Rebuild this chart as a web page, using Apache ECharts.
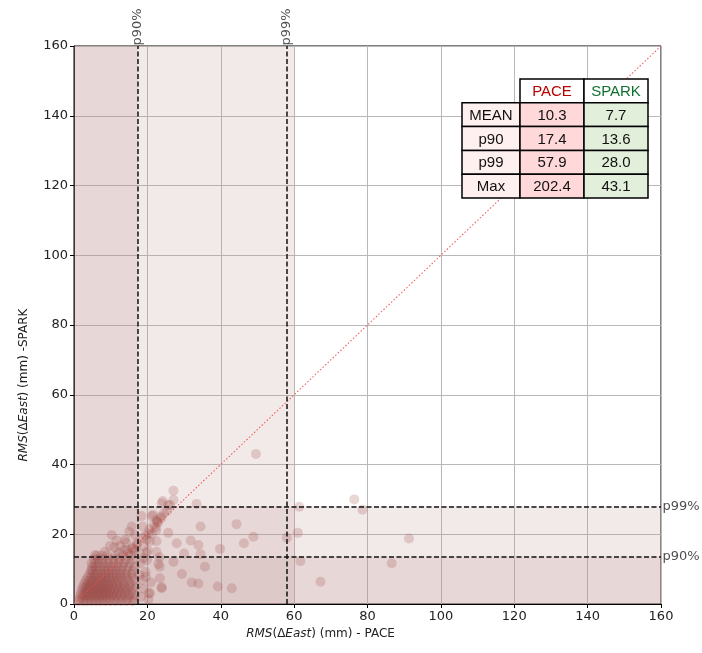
<!DOCTYPE html>
<html>
<head>
<meta charset="utf-8">
<script src="https://cdn.jsdelivr.net/npm/echarts@6/dist/echarts.min.js"></script>
<style>
  html, body { margin: 0; padding: 0; background: #fff; }
  #chart { width: 702px; height: 653px; }
</style>
</head>
<body>
<div id="chart"></div>
<script>
// summary stats (mm)
var statNames = ['MEAN', 'p90', 'p99', 'Max'];
var paceStats = [10.3, 17.4, 57.9, 202.4];
var sparkStats = [7.7, 13.6, 28.0, 43.1];
var shadeLimitX = 60;
var axisTicks = [0, 160, 20];

// RMS(dEast) per station: [PACE, SPARK]
var samples = [
  // dense core
  [1.2,0.8],[2.5,0.8],[3.6,0.8],[4.8,0.8],[6.1,0.8],[7.3,0.8],[8.6,0.8],[9.9,0.8],[11.4,0.8],[12.8,0.8],[14.3,0.8],[15.9,0.8],
  [1.5,1.6],[2.3,1.6],[3.2,1.6],[4.1,1.6],[5.0,1.6],[5.9,1.6],[6.8,1.6],[7.7,1.6],[8.8,1.6],[9.7,1.6],[10.9,1.6],[12.1,1.6],[13.4,1.6],[14.8,1.6],[16.2,1.6],
  [1.8,2.5],[2.7,2.5],[3.5,2.5],[4.4,2.5],[5.2,2.5],[6.1,2.5],[7.0,2.5],[7.9,2.5],[8.7,2.5],[9.6,2.5],[10.6,2.5],[11.5,2.5],[12.7,2.5],[13.9,2.5],[15.1,2.5],[16.6,2.5],
  [2.0,3.3],[2.9,3.3],[3.7,3.3],[4.6,3.3],[5.4,3.3],[6.3,3.3],[7.2,3.3],[8.0,3.3],[8.9,3.3],[9.8,3.3],[10.8,3.3],[11.9,3.3],[13.0,3.3],[14.2,3.3],[15.6,3.3],
  [2.2,4.2],[3.1,4.2],[3.9,4.2],[4.8,4.2],[5.6,4.2],[6.5,4.2],[7.3,4.2],[8.2,4.2],[9.1,4.2],[10.0,4.2],[11.0,4.2],[12.1,4.2],[13.3,4.2],[14.6,4.2],[16.0,4.2],
  [2.5,5.0],[3.4,5.0],[4.2,5.0],[5.1,5.0],[5.9,5.0],[6.8,5.0],[7.6,5.0],[8.5,5.0],[9.4,5.0],[10.4,5.0],[11.5,5.0],[12.6,5.0],[13.8,5.0],[15.2,5.0],[16.8,5.0],
  [2.8,5.9],[3.8,5.9],[4.7,5.9],[5.6,5.9],[6.5,5.9],[7.4,5.9],[8.3,5.9],[9.2,5.9],[10.2,5.9],[11.3,5.9],[12.5,5.9],[13.8,5.9],[15.3,5.9],
  [3.2,6.8],[4.2,6.8],[5.1,6.8],[6.0,6.8],[7.0,6.8],[7.9,6.8],[8.8,6.8],[9.8,6.8],[10.9,6.8],[12.0,6.8],[13.3,6.8],[14.8,6.8],[16.4,6.8],
  [3.7,7.7],[4.7,7.7],[5.6,7.7],[6.6,7.7],[7.5,7.7],[8.5,7.7],[9.5,7.7],[10.5,7.7],[11.7,7.7],[12.9,7.7],[14.3,7.7],[15.9,7.7],
  [4.3,8.6],[5.4,8.6],[6.4,8.6],[7.4,8.6],[8.4,8.6],[9.4,8.6],[10.5,8.6],[11.6,8.6],[12.8,8.6],[14.1,8.6],[15.6,8.6],
  [4.6,9.6],[5.0,9.6],[6.1,9.6],[7.2,9.6],[8.3,9.6],[9.3,9.6],[10.4,9.6],[11.6,9.6],[12.9,9.6],[14.3,9.6],[16.0,9.6],
  [4.9,10.6],[5.8,10.6],[7.0,10.6],[8.2,10.6],[9.4,10.6],[10.6,10.6],[11.9,10.6],[13.2,10.6],[14.8,10.6],[16.5,10.6],
  [4.8,11.7],[5.7,11.7],[6.7,11.7],[8.0,11.7],[9.3,11.7],[10.7,11.7],[12.1,11.7],[13.6,11.7],[15.2,11.7],
  [5.5,12.8],[6.6,12.8],[7.8,12.8],[9.3,12.8],[10.8,12.8],[12.4,12.8],[14.1,12.8],[15.9,12.8],
  [6.2,13.9],[7.5,13.9],[9.0,13.9],[11.2,13.9],[13.3,13.9],[15.5,13.9],
  // just right of the p90 line
  [18.2,2.1],[19.0,4.4],[18.6,6.9],[19.5,9.2],[18.1,11.6],[20.3,1.3],[17.8,8.3],[21.0,6.2],[19.9,12.6],[18.9,13.1],
  [19.6,7.8],[20.4,3.1],[23.4,7.4],[23.9,4.8],[23.0,11.5],[23.3,13.4],[19.8,14.7],
  // along the diagonal above p90
  [14.8,14.6],[15.9,16.1],[17.2,17.5],[16.5,15.2],[13.6,15.4],[18.6,18.9],[19.4,19.6],[20.6,21.4],[21.8,22.7],
  [22.9,23.4],[23.8,24.6],[22.4,21.1],[21.2,20.1],[19.0,16.6],[20.1,15.3],[17.9,14.5],[12.2,14.8],[11.0,16.2],[14.2,17.6],
  [22.3,22.0],[22.7,23.6],[21.2,25.2],[23.9,28.9],[26.2,28.4],[25.4,26.8],[23.6,25.0],[24.5,26.0],
  [18.4,25.2],[18.7,22.2],[20.3,20.3],[20.7,17.9],[22.5,24.1],[21.6,25.5],[22.5,18.0],[22.5,15.0],[19.8,18.4],
  [15.7,22.2],[15.1,20.7],[10.3,19.8],[11.6,18.2],[13.9,18.4],[16.6,19.8],[12.5,16.6],[17.1,16.9],[9.8,16.6],
  [5.7,14.0],[8.4,15.0],[14.5,15.5],[16.0,15.8],
  // scattered
  [27.1,32.5],[27.1,29.8],[24.2,29.5],[25.7,28.4],[33.4,28.7],[34.5,22.2],[44.3,22.9],[48.9,19.3],[46.3,17.4],
  [39.8,15.8],[31.8,18.2],[33.9,16.9],[28.0,17.4],[25.7,20.4],[30.0,14.5],[34.5,14.3],[35.7,10.7],[29.4,8.6],
  [32.1,6.2],[33.9,5.9],[39.2,5.0],[43.0,4.5],[27.1,12.1],[23.4,10.7],[23.9,4.5],[20.7,3.1],
  [49.6,43.0],[76.4,30.0],[78.6,27.0],[61.4,27.9],[61.0,20.4],[58.0,19.0],[91.3,18.8],[61.7,12.3],[86.6,11.7],[67.2,6.4]
];

var diagonal = [[0, 0], [160, 160]];

var shadeColor = 'rgba(188,143,143,0.2)';
var textColor = '#222';

var chart = echarts.init(document.getElementById('chart'));

// stats table drawn with graphic rects
function buildTable() {
  var left = 462, top = 79, rowH = 23.8;
  var colW = [58, 64, 64];
  var els = [];
  var font = '15px "Liberation Sans", Arial, sans-serif';
  function cell(x, y, w, fill, txt, color) {
    els.push({
      type: 'rect', shape: { x: x, y: y, width: w, height: rowH },
      style: { fill: fill, stroke: '#000', lineWidth: 1.5 }, z: 100
    });
    els.push({
      type: 'text', x: x + w / 2, y: y + rowH / 2 + 1,
      style: { text: txt, font: font, fill: color || '#111', align: 'center', verticalAlign: 'middle' }, z: 101
    });
  }
  var xPace = left + colW[0], xSpark = xPace + colW[1];
  cell(xPace, top, colW[1], '#fff', 'PACE', '#b80000');
  cell(xSpark, top, colW[2], '#fff', 'SPARK', '#107030');
  statNames.forEach(function (name, i) {
    var y = top + rowH * (i + 1);
    cell(left, y, colW[0], '#fff0f0', name);
    cell(xPace, y, colW[1], '#ffd9d9', paceStats[i].toFixed(1));
    cell(xSpark, y, colW[2], '#e2efda', sparkStats[i].toFixed(1));
  });
  return els;
}

var axisFont = { color: textColor, fontSize: 13, fontFamily: 'DejaVu Sans' };
function nameStyle(pad) {
  return {
    color: textColor, fontSize: 12, fontFamily: 'DejaVu Sans', padding: pad,
    rich: { i: { fontStyle: 'italic', fontSize: 12, fontFamily: 'DejaVu Sans', color: textColor } }
  };
}

function valueAxis(name, gap, rotate, pad) {
  return {
    type: 'value', min: axisTicks[0], max: axisTicks[1], interval: axisTicks[2],
    name: name, nameLocation: 'middle', nameGap: gap, nameRotate: rotate,
    nameTextStyle: nameStyle(pad),
    axisLine: { show: true, lineStyle: { color: '#000', width: 1 } },
    axisTick: { show: true, inside: false, length: 4, lineStyle: { color: '#000' } },
    axisLabel: Object.assign({ margin: 6 }, axisFont),
    splitLine: { show: true, lineStyle: { color: '#b8b8b8', width: 1 } }
  };
}

chart.setOption({
  animation: false,
  backgroundColor: '#fff',
  grid: { left: 74, right: 41, top: 46, bottom: 49, show: true, borderColor: '#000', borderWidth: 1 },
  xAxis: valueAxis('{i|RMS}(Δ{i|East}) (mm) - PACE', 20, 0, [0, 94, 0, 0]),
  yAxis: valueAxis('{i|RMS}(Δ{i|East}) (mm) -SPARK', 44, 90, [0, 120, 0, 0]),
  graphic: buildTable(),
  series: [
    {
      // percentile shading
      type: 'line', data: [], silent: true,
      markArea: {
        silent: true,
        itemStyle: { color: shadeColor },
        data: [
          [{ xAxis: 0 }, { xAxis: shadeLimitX }],
          [{ xAxis: 0 }, { xAxis: paceStats[1] }],
          [{ yAxis: 0 }, { yAxis: sparkStats[2] }],
          [{ yAxis: 0 }, { yAxis: sparkStats[1] }]
        ]
      }
    },
    {
      type: 'scatter', name: 'stations', data: samples,
      symbolSize: 10, z: 3,
      itemStyle: { color: 'rgba(152,70,64,0.27)', borderWidth: 0 }
    },
    {
      type: 'line', data: diagonal, symbol: 'none', z: 4, silent: true,
      lineStyle: { color: 'rgba(240,80,80,0.9)', width: 1.1, type: [1.5, 2] }
    },
    {
      // dashed percentile lines
      type: 'line', data: [], z: 5, silent: true,
      markLine: {
        silent: true, symbol: 'none', label: { show: false },
        lineStyle: { color: '#111', width: 1.5, type: [5, 2.5] },
        data: [
          { xAxis: paceStats[1] }, { xAxis: paceStats[2] },
          { yAxis: sparkStats[1] }, { yAxis: sparkStats[2] }
        ]
      }
    },
    {
      // labels on top of vertical lines
      type: 'scatter', symbolSize: 1, clip: false, silent: true, z: 6,
      itemStyle: { color: 'rgba(0,0,0,0)' },
      data: [[paceStats[1], axisTicks[1], 'p90%'], [paceStats[2], axisTicks[1], 'p99%']],
      label: {
        show: true, position: 'top', distance: 0, rotate: 90, align: 'left', verticalAlign: 'middle',
        formatter: function (p) { return p.value[2]; },
        color: textColor, fontSize: 13, fontFamily: 'DejaVu Sans'
      }
    },
    {
      // labels right of horizontal lines
      type: 'scatter', symbolSize: 1, clip: false, silent: true, z: 6,
      itemStyle: { color: 'rgba(0,0,0,0)' },
      data: [[axisTicks[1], sparkStats[1], 'p90%'], [axisTicks[1], sparkStats[2], 'p99%']],
      label: {
        show: true, position: 'right', distance: 1,
        formatter: function (p) { return p.value[2]; },
        color: textColor, fontSize: 13, fontFamily: 'DejaVu Sans'
      }
    }
  ]
});
</script>
</body>
</html>
